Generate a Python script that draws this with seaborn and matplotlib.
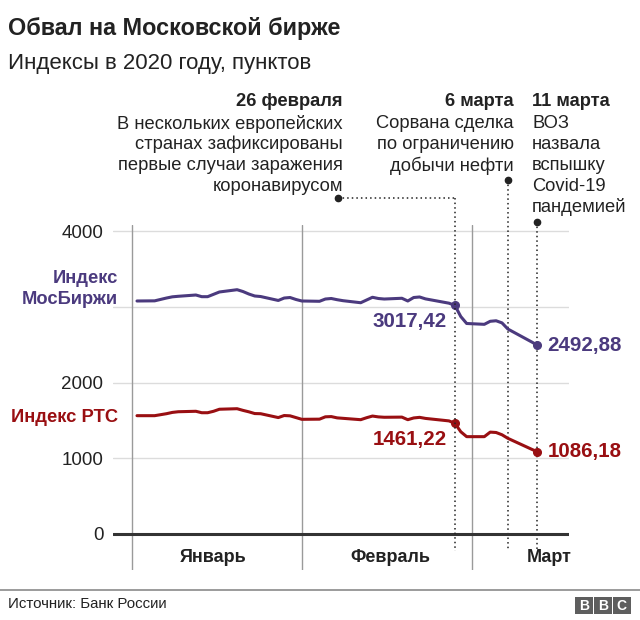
import numpy as np
import pandas as pd
import matplotlib
matplotlib.use("Agg")
import matplotlib.pyplot as plt
import matplotlib.dates as mdates
import matplotlib.transforms as mtrans
from matplotlib.patches import Rectangle
from matplotlib.lines import Line2D
import seaborn as sns

# ---------------- data ----------------
dates = [
    "2020-01-03", "2020-01-06", "2020-01-08", "2020-01-09", "2020-01-10",
    "2020-01-13", "2020-01-14", "2020-01-15", "2020-01-16", "2020-01-17",
    "2020-01-20", "2020-01-21", "2020-01-22", "2020-01-23", "2020-01-24",
    "2020-01-27", "2020-01-28", "2020-01-29", "2020-01-30", "2020-01-31",
    "2020-02-03", "2020-02-04", "2020-02-05", "2020-02-06", "2020-02-07",
    "2020-02-10", "2020-02-11", "2020-02-12", "2020-02-13", "2020-02-14",
    "2020-02-17", "2020-02-18", "2020-02-19", "2020-02-20", "2020-02-21",
    "2020-02-25", "2020-02-26", "2020-02-27", "2020-02-28",
    "2020-03-02", "2020-03-03", "2020-03-04", "2020-03-05", "2020-03-06",
    "2020-03-10", "2020-03-11",
]
moex = [
    3076, 3078, 3115, 3131, 3138, 3155, 3133, 3133, 3164, 3195,
    3225, 3201, 3168, 3142, 3135, 3083, 3115, 3122, 3096, 3076,
    3072, 3102, 3109, 3093, 3080, 3053, 3089, 3125, 3109, 3102,
    3112, 3076, 3122, 3129, 3104, 3047, 3017.42, 2871, 2779,
    2768, 2808, 2815, 2787, 2706, 2537, 2492.88,
]
rts = [
    1562, 1562, 1588, 1605, 1614, 1620, 1601, 1601, 1620, 1647,
    1654, 1632, 1613, 1590, 1588, 1537, 1564, 1560, 1537, 1514,
    1516, 1547, 1550, 1533, 1527, 1509, 1535, 1557, 1546, 1541,
    1543, 1509, 1532, 1540, 1526, 1493, 1461.22, 1350, 1285,
    1285, 1345, 1340, 1310, 1263, 1120, 1086.18,
]
series_names = ["Индекс\nМосБиржи", "Индекс РТС"]
series_colors = ["#4b3a7e", "#990f12"]
highlight_dates = ["2020-02-26", "2020-03-11"]

month_names = ["Январь", "Февраль", "Март"]
month_label_dates = ["2020-01-16", "2020-02-15", "2020-03-13"]
month_separators = ["2020-01-02 04:00", "2020-01-31 01:00", "2020-02-28 22:00"]

ytick_values = [0, 1000, 2000, 3000, 4000]
ytick_labels = ["0", "1000", "2000", "", "4000"]

event_dates = ["2020-02-26", "2020-03-06", "2020-03-11"]
event_titles = ["26 февраля", "6 марта", "11 марта"]
event_texts = [
    ["В нескольких европейских", "странах зафиксированы",
     "первые случаи заражения", "коронавирусом"],
    ["Сорвана сделка", "по ограничению", "добычи нефти"],
    ["ВОЗ", "назвала", "вспышку", "Covid-19", "пандемией"],
]

title = "Обвал на Московской бирже"
subtitle = "Индексы в 2020 году, пунктов"
source = "Источник: Банк России"

# ---------------- style ----------------
W, H = 640, 620
sns.set_theme(style="white")
plt.rcParams["font.family"] = ["Liberation Sans", "DejaVu Sans"]
TXT = "#222222"


def fx(px):
    return px / W


def fy(py):
    return 1 - py / H


df = pd.concat([
    pd.DataFrame({"date": pd.to_datetime(dates), "value": moex, "series": series_names[0]}),
    pd.DataFrame({"date": pd.to_datetime(dates), "value": rts, "series": series_names[1]}),
])

fig = plt.figure(figsize=(W / 100, H / 100), dpi=100)
fig.patch.set_facecolor("white")
ax = fig.add_axes([fx(113), fy(570), fx(569) - fx(113), fy(225) - fy(570)])

# gridlines & separators (behind)
for v in ytick_values[1:]:
    ax.axhline(v, color="#dcdcdc", lw=1, zorder=0)
for d in month_separators:
    ax.axvline(mdates.date2num(pd.Timestamp(d)), color="#9a9a9a", lw=1, zorder=0)

sns.lineplot(data=df, x="date", y="value", hue="series",
             palette=dict(zip(series_names, series_colors)),
             linewidth=2.2, legend=False, ax=ax, zorder=3)

ax.axhline(0, color="#333333", lw=2.2, zorder=2)

x0 = mdates.date2num(pd.Timestamp("2020-01-03"))
x1 = mdates.date2num(pd.Timestamp("2020-03-11"))
ppd = (537.3 - 137) / (x1 - x0)
ax.set_xlim(x0 - (137 - 113) / ppd, x1 + (569 - 537.3) / ppd)
val_per_px = 1000 / 75.75
ax.set_ylim((534 - 570) * val_per_px, (534 - 225) * val_per_px)

ax.set_yticks(ytick_values)
ax.set_yticklabels(ytick_labels, fontsize=13.5, color=TXT)
ax.tick_params(axis="y", length=0, pad=7)
ax.set_xticks([])
ax.set_xlabel("")
ax.set_ylabel("")
for s in ax.spines.values():
    s.set_visible(False)

# month labels
bt = mtrans.blended_transform_factory(ax.transData, fig.transFigure)
for name, d in zip(month_names, month_label_dates):
    ax.text(mdates.date2num(pd.Timestamp(d)), fy(557), name, transform=bt,
            ha="center", va="center", fontsize=13, fontweight="bold", color=TXT)

# highlighted points and value labels
offsets = [(-8, -16), (10, 0)]
has = ["right", "left"]
for vals, col in zip([moex, rts], series_colors):
    for hd, off, ha in zip(highlight_dates, offsets, has):
        i = dates.index(hd)
        xd = mdates.date2num(pd.Timestamp(hd))
        ax.plot([xd], [vals[i]], "o", color=col, ms=5.5, zorder=5)
        ax.annotate(f"{vals[i]:.2f}".replace(".", ","), (xd, vals[i]),
                    xytext=off, textcoords="offset pixels",
                    ha=ha, va="center", fontsize=14.8, fontweight="bold", color=col)

# series names
fig.text(fx(118), fy(289), series_names[0], ha="right", va="center",
         fontsize=13.2, fontweight="bold", color=series_colors[0], linespacing=1.32)
fig.text(fx(118), fy(417), series_names[1], ha="right", va="center",
         fontsize=13.2, fontweight="bold", color=series_colors[1])

# event annotations
ev_x = [mdates.date2num(pd.Timestamp(d)) for d in event_dates]
text_x = [343, 514, 532]
text_ha = ["right", "right", "left"]
for tx, ha, t, lines in zip(text_x, text_ha, event_titles, event_texts):
    fig.text(fx(tx), fy(101), t, ha=ha, va="center", fontsize=13.2,
             fontweight="bold", color=TXT)
    for k, ln in enumerate(lines):
        fig.text(fx(tx), fy(124 + k * 20.7), ln, ha=ha, va="center",
                 fontsize=13.2, color=TXT)

dot_kw = dict(color="#222222", lw=1.1, linestyle=(0, (1, 2)), zorder=1, clip_on=False)
bottom = fy(551)
# 26 Feb: dot left, horizontal, then down
fx_feb26 = fig.transFigure.inverted().transform(ax.transData.transform((ev_x[0], 0)))[0]
fig.add_artist(Line2D([fx(338), fx_feb26], [fy(198), fy(198)], transform=fig.transFigure, **dot_kw))
fig.add_artist(Line2D([fx_feb26, fx_feb26], [fy(198), bottom], transform=fig.transFigure, **dot_kw))
fig.add_artist(Line2D([fx(338)], [fy(198)], transform=fig.transFigure, marker="o",
                      ms=4.5, color="#222222", lw=0))
for xe, ytop in zip(ev_x[1:], [180, 222]):
    ax.plot([xe, xe], [fy(ytop), bottom], transform=bt, **dot_kw)
    ax.plot([xe], [fy(ytop)], "o", transform=bt, ms=4.5, color="#222222", clip_on=False)

# titles
fig.text(fx(8), fy(28), title, ha="left", va="center", fontsize=16.8,
         fontweight="bold", color=TXT)
fig.text(fx(8), fy(64), subtitle, ha="left", va="center", fontsize=16, color=TXT)

# footer
fig.add_artist(Line2D([0, 1], [fy(590), fy(590)], transform=fig.transFigure,
                      color="#8a8a8a", lw=1.2))
fig.text(fx(8), fy(604), source, ha="left", va="center", fontsize=10.8, color=TXT)
for k, letter in enumerate("BBC"):
    left = 575 + k * 19
    fig.add_artist(Rectangle((fx(left), fy(614)), 17.5 / W, 17 / H,
                             transform=fig.transFigure, color="#5e5e5e", lw=0))
    fig.text(fx(left + 8.75), fy(605.5), letter, ha="center", va="center",
             fontsize=10, fontweight="bold", color="white")

fig.savefig("out.png", dpi=100)
